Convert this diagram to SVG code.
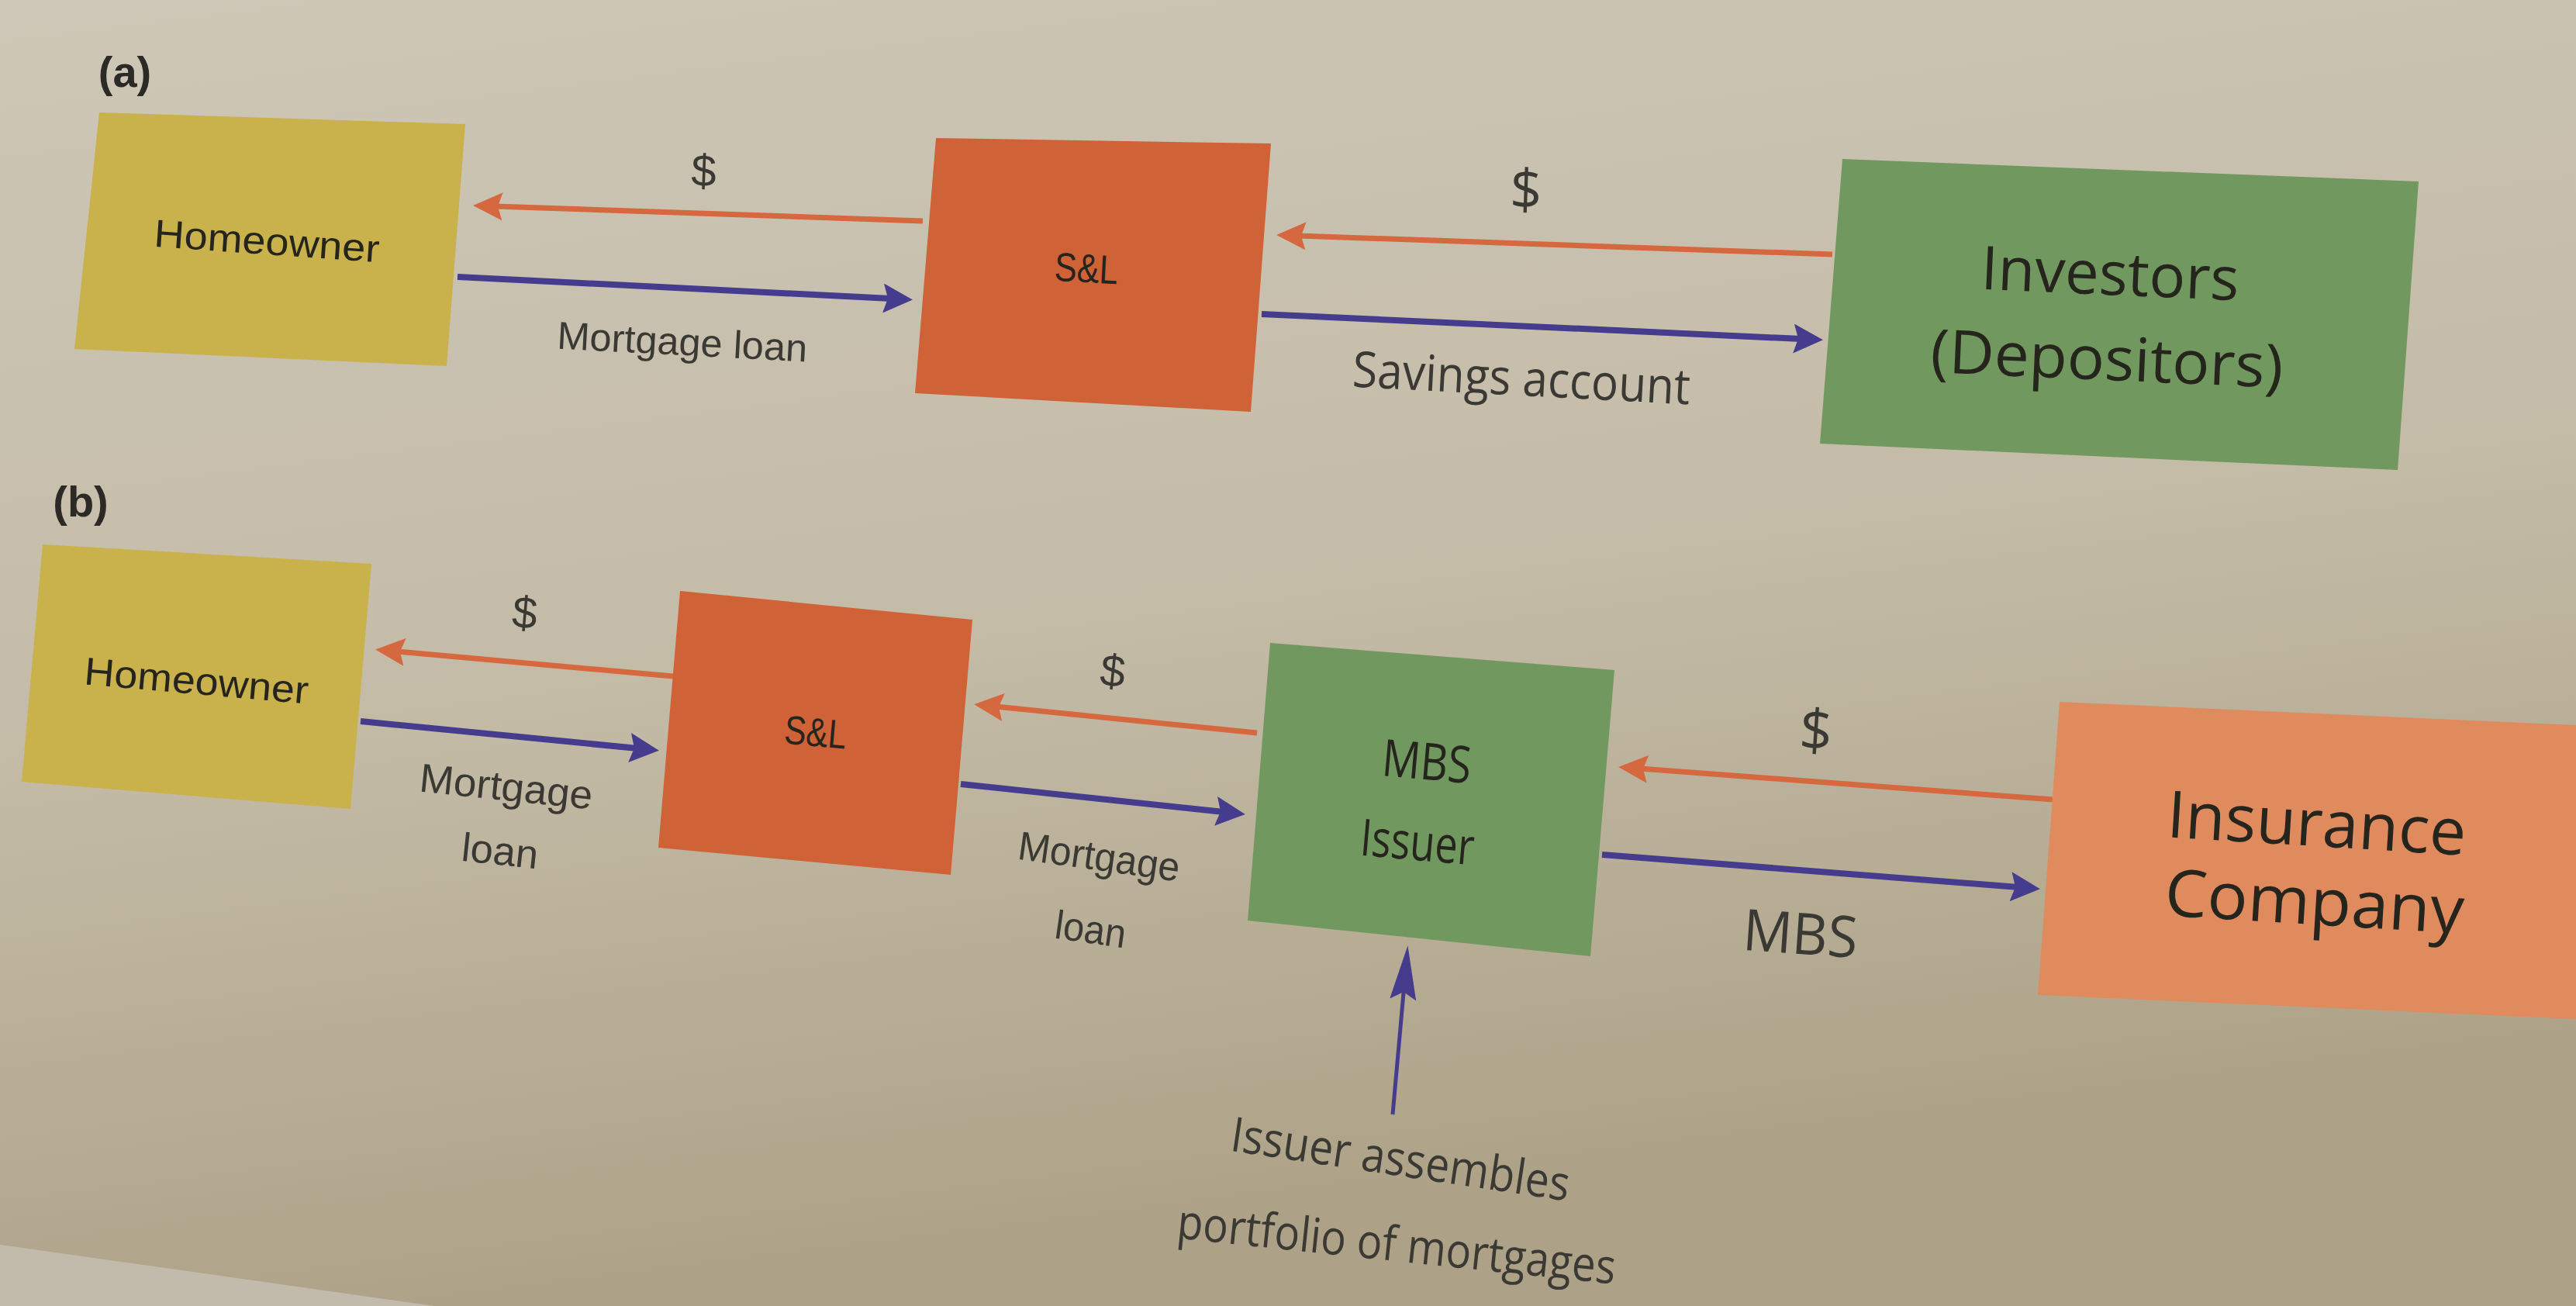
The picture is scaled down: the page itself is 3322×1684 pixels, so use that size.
<svg xmlns="http://www.w3.org/2000/svg" width="3322" height="1684" viewBox="0 0 3322 1684">
<style>
.cond{font-family:"Liberation Sans",Arial,sans-serif;}
.hum{font-family:"Open Sans","Noto Sans","Liberation Sans",sans-serif;}
.intext{fill:#26251d;}
.lbl{fill:#3a3933;}
.panel{font-family:"Liberation Sans",Arial,sans-serif;font-weight:bold;fill:#2c2a26;font-size:56px;}
.yellow{fill:#c9b14b;}
.red{fill:#cf6236;}
.green{fill:#71985e;}
.peach{fill:#e08b5e;}
.or{stroke:#d5683e;stroke-width:7;fill:none;marker-end:url(#headOr);}
.pu{stroke:#463c8e;stroke-width:8;fill:none;marker-end:url(#headPu);}
.puv{stroke:#463c8e;stroke-width:5;fill:none;marker-end:url(#headPuV);}
</style>
<defs>
<linearGradient id="bg" x1="0" y1="0" x2="0.25" y2="1">
<stop offset="0" stop-color="#cec7b7"/>
<stop offset="0.55" stop-color="#c4bba7"/>
<stop offset="1" stop-color="#ada287"/>
</linearGradient>
<marker id="headOr" markerUnits="userSpaceOnUse" markerWidth="40" markerHeight="36" refX="10" refY="18" orient="auto">
<path d="M0,0 L38,18 L0,36 L6,18 z" fill="#d5683e"/>
</marker>
<marker id="headPu" markerUnits="userSpaceOnUse" markerWidth="40" markerHeight="38" refX="10" refY="19" orient="auto">
<path d="M0,0 L38,19 L0,38 L6,19 z" fill="#463c8e"/>
</marker>
<marker id="headPuV" markerUnits="userSpaceOnUse" markerWidth="72" markerHeight="34" refX="20" refY="17" orient="auto">
<path d="M0,0 L70,17 L0,34 L10,17 z" fill="#463c8e"/>
</marker>
</defs>

<rect x="0" y="0" width="3322" height="1684" fill="url(#bg)"/>
<polygon points="0,1605 560,1684 0,1684" fill="#c2bbac"/>

<text class="panel" x="161" y="112" text-anchor="middle">(a)</text>
<text class="panel" x="104" y="666" text-anchor="middle">(b)</text>

<g id="connectors">
<line class="or" x1="1190" y1="285" x2="638" y2="266"/>
<line class="pu" x1="590" y1="357" x2="1149" y2="385"/>
<line class="or" x1="2363" y1="328" x2="1674" y2="304"/>
<line class="pu" x1="1627" y1="405" x2="2323" y2="437"/>
<line class="or" x1="868" y1="872" x2="512" y2="840"/>
<line class="pu" x1="465" y1="930" x2="822" y2="965"/>
<line class="or" x1="1621" y1="945" x2="1284" y2="911"/>
<line class="pu" x1="1239" y1="1011" x2="1578" y2="1047"/>
<line class="or" x1="2648" y1="1031" x2="2115" y2="991"/>
<line class="pu" x1="2066" y1="1102" x2="2603" y2="1144"/>
<line class="puv" x1="1796" y1="1437" x2="1811" y2="1269"/>
<text class="cond lbl" x="907" y="240" font-size="58" text-anchor="middle" transform="rotate(2 907 240)">$</text>
<text class="cond lbl" x="879" y="458" font-size="50" text-anchor="middle" textLength="323" lengthAdjust="spacingAndGlyphs" transform="rotate(3 879 458)">Mortgage loan</text>
<text class="hum lbl" x="1967" y="270" font-size="72" text-anchor="middle" transform="rotate(2 1967 270)">$</text>
<text class="hum lbl" x="1961" y="510" font-size="64" text-anchor="middle" textLength="436" lengthAdjust="spacingAndGlyphs" transform="rotate(3 1961 510)">Savings account</text>
<text class="cond lbl" x="675" y="810" font-size="58" text-anchor="middle" transform="rotate(5 675 810)">$</text>
<text class="cond lbl" x="651" y="1032" font-size="52" text-anchor="middle" textLength="224" lengthAdjust="spacingAndGlyphs" transform="rotate(6 651 1032)">Mortgage</text>
<text class="cond lbl" x="643" y="1115" font-size="52" text-anchor="middle" textLength="99" lengthAdjust="spacingAndGlyphs" transform="rotate(6 643 1115)">loan</text>
<text class="cond lbl" x="1433" y="885" font-size="58" text-anchor="middle" transform="rotate(6 1433 885)">$</text>
<text class="cond lbl" x="1415" y="1122" font-size="52" text-anchor="middle" textLength="210" lengthAdjust="spacingAndGlyphs" transform="rotate(8 1415 1122)">Mortgage</text>
<text class="cond lbl" x="1404" y="1216" font-size="52" text-anchor="middle" textLength="92" lengthAdjust="spacingAndGlyphs" transform="rotate(8 1404 1216)">loan</text>
<text class="hum lbl" x="2340" y="968" font-size="74" text-anchor="middle" transform="rotate(4 2340 968)">$</text>
<text class="hum lbl" x="2320" y="1230" font-size="74" text-anchor="middle" textLength="148" lengthAdjust="spacingAndGlyphs" transform="rotate(4 2320 1230)">MBS</text>
<text class="hum lbl" x="1803" y="1516" font-size="62" text-anchor="middle" textLength="441" lengthAdjust="spacingAndGlyphs" transform="rotate(8.5 1803 1516)">Issuer assembles</text>
<text class="hum lbl" x="1799" y="1626" font-size="62" text-anchor="middle" textLength="568" lengthAdjust="spacingAndGlyphs" transform="rotate(6 1799 1626)">portfolio of mortgages</text>
</g>

<g id="homeowner-a">
<polygon class="yellow" points="128,145 600,160 576,472 96,450"/>
<text class="cond intext" x="343" y="328" font-size="50" text-anchor="middle" textLength="291" lengthAdjust="spacingAndGlyphs" transform="rotate(4 343 328)">Homeowner</text>
</g>
<g id="sl-a">
<polygon class="red" points="1207,178 1639,185 1613,531 1180,507"/>
<text class="cond intext" x="1400" y="364" font-size="52" text-anchor="middle" textLength="82" lengthAdjust="spacingAndGlyphs" transform="rotate(3 1400 364)">S&amp;L</text>
</g>
<g id="investors-a">
<polygon class="green" points="2376,205 3119,234 3092,606 2347,572"/>
<text class="hum intext" x="2720" y="380" font-size="78" text-anchor="middle" textLength="333" lengthAdjust="spacingAndGlyphs" transform="rotate(2.5 2720 380)">Investors</text>
<text class="hum intext" x="2716" y="490" font-size="78" text-anchor="middle" textLength="455" lengthAdjust="spacingAndGlyphs" transform="rotate(2.5 2716 490)">(Depositors)</text>
</g>

<g id="homeowner-b">
<polygon class="yellow" points="55,702 479,727 452,1043 28,1008"/>
<text class="cond intext" x="252" y="895" font-size="50" text-anchor="middle" textLength="290" lengthAdjust="spacingAndGlyphs" transform="rotate(5 252 895)">Homeowner</text>
</g>
<g id="sl-b">
<polygon class="red" points="877,762 1254,799 1226,1128 849,1093"/>
<text class="cond intext" x="1050" y="962" font-size="52" text-anchor="middle" textLength="80" lengthAdjust="spacingAndGlyphs" transform="rotate(5 1050 962)">S&amp;L</text>
</g>
<g id="mbs-issuer">
<polygon class="green" points="1638,829 2082,864 2051,1233 1609,1187"/>
<text class="hum intext" x="1838" y="1005" font-size="66" text-anchor="middle" textLength="115" lengthAdjust="spacingAndGlyphs" transform="rotate(5 1838 1005)">MBS</text>
<text class="hum intext" x="1826" y="1109" font-size="66" text-anchor="middle" textLength="147" lengthAdjust="spacingAndGlyphs" transform="rotate(5 1826 1109)">Issuer</text>
</g>
<g id="insurance-company">
<polygon class="peach" points="2656,905 3322,935 3322,1314 2628,1283"/>
<text class="hum intext" x="2986" y="1091" font-size="84" text-anchor="middle" textLength="386" lengthAdjust="spacingAndGlyphs" transform="rotate(3.5 2986 1091)">Insurance</text>
<text class="hum intext" x="2983" y="1192" font-size="84" text-anchor="middle" textLength="386" lengthAdjust="spacingAndGlyphs" transform="rotate(3.5 2983 1192)">Company</text>
</g>
</svg>
